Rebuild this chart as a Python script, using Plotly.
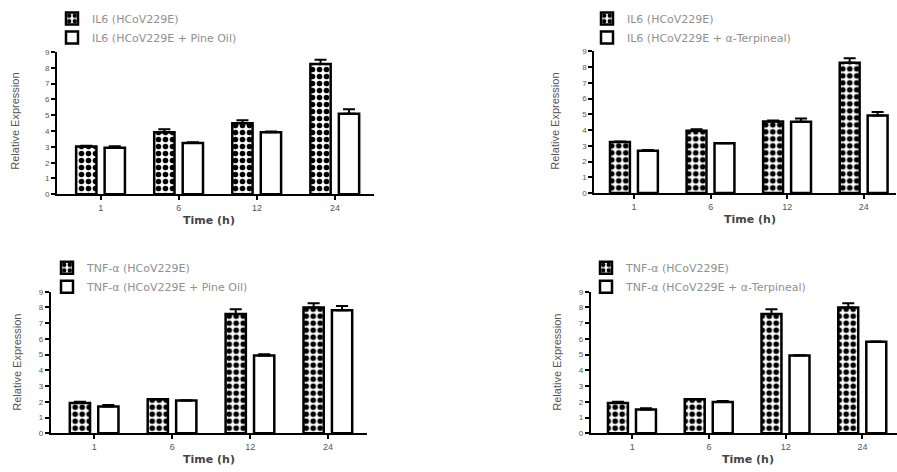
import plotly.graph_objects as go

# ---------------- data ----------------
times = ["1", "6", "12", "24"]

il6_virus_a = [3.03, 3.93, 4.49, 8.25]
il6_virus_a_err = [0.05, 0.18, 0.20, 0.26]
il6_pine = [2.94, 3.24, 3.93, 5.09]
il6_pine_err = [0.10, 0.06, 0.04, 0.29]

il6_virus_b = [3.24, 3.95, 4.55, 8.27]
il6_virus_b_err = [0.04, 0.10, 0.06, 0.30]
il6_terp = [2.68, 3.16, 4.53, 4.93]
il6_terp_err = [0.06, 0.02, 0.20, 0.22]

tnf_virus_a = [1.93, 2.16, 7.59, 8.00]
tnf_virus_a_err = [0.08, 0.02, 0.30, 0.27]
tnf_pine = [1.70, 2.08, 4.95, 7.82]
tnf_pine_err = [0.10, 0.02, 0.07, 0.27]

tnf_virus_b = [1.93, 2.16, 7.59, 8.00]
tnf_virus_b_err = [0.08, 0.02, 0.30, 0.27]
tnf_terp = [1.52, 2.00, 4.95, 5.82]
tnf_terp_err = [0.08, 0.06, 0.02, 0.02]

names = [
    ("IL6 (HCoV229E)", "IL6 (HCoV229E + Pine Oil)"),
    ("IL6 (HCoV229E)", "IL6 (HCoV229E + \u03b1-Terpineal)"),
    ("TNF-\u03b1 (HCoV229E)", "TNF-\u03b1 (HCoV229E + Pine Oil)"),
    ("TNF-\u03b1 (HCoV229E)", "TNF-\u03b1 (HCoV229E + \u03b1-Terpineal)"),
]
panels = [
    (il6_virus_a, il6_virus_a_err, il6_pine, il6_pine_err),
    (il6_virus_b, il6_virus_b_err, il6_terp, il6_terp_err),
    (tnf_virus_a, tnf_virus_a_err, tnf_pine, tnf_pine_err),
    (tnf_virus_b, tnf_virus_b_err, tnf_terp, tnf_terp_err),
]

# ---------------- layout geometry ----------------
W, H = 897, 472
xdom_px = [(57, 374), (594.3, 896), (50.7, 367), (590.7, 897)]
xrng = [(-0.56, 3.5), (-0.52, 3.42), (-0.56, 3.5), (-0.54, 3.45)]
ydom_px = [(194, 49), (192.7, 48.3), (437.7, 293.3), (437.7, 293.3)]
legend_px = [(52, 0), (587, 0), (47, 254), (586, 254)]
ytitle_px = [(15, 120), (555, 120), (16.7, 365), (556.7, 365)]
xtitle_px = [(209, 221), (750, 220), (209, 464), (748, 464)]

TXT = "#555555"
LEG = "#909090"
FONT = "Liberation Sans, Arial, sans-serif"

fig = go.Figure()
xpos = list(range(len(times)))

for i, ((v, ve, t, te), (n1, n2)) in enumerate(zip(panels, names)):
    sfx = "" if i == 0 else str(i + 1)
    leg = "legend" if i == 0 else f"legend{i+1}"
    fig.add_trace(go.Bar(
        x=xpos, y=v, name=n1, xaxis="x" + sfx, yaxis="y" + sfx, legend=leg,
        width=0.26, offset=-0.315,
        marker=dict(color="white", line=dict(color="black", width=2.5),
                    pattern=dict(shape=".", fgcolor="black", bgcolor="white",
                                 size=7, solidity=0.5, fillmode="replace")),
        error_y=dict(type="data", array=ve, arrayminus=[0] * len(ve), symmetric=False,
                     color="black", thickness=2, width=6),
        hoverinfo="skip",
    ))
    fig.add_trace(go.Bar(
        x=xpos, y=t, name=n2, xaxis="x" + sfx, yaxis="y" + sfx, legend=leg,
        width=0.26, offset=0.05,
        marker=dict(color="white", line=dict(color="black", width=2.5)),
        error_y=dict(type="data", array=te, arrayminus=[0] * len(te), symmetric=False,
                     color="black", thickness=2, width=6),
        hoverinfo="skip",
    ))

    x0, x1 = xdom_px[i]
    yb, yt = ydom_px[i]
    fig.layout["xaxis" + sfx] = dict(
        domain=[x0 / W, min(x1 / W, 1.0)], range=list(xrng[i]), anchor="y" + sfx,
        tickmode="array", tickvals=xpos, ticktext=times,
        showline=True, linecolor="black", linewidth=2,
        ticks="outside", ticklen=4, tickwidth=1.5, tickcolor="black",
        showgrid=False, zeroline=False,
        tickfont=dict(family=FONT, size=9, color=TXT),
    )
    fig.layout["yaxis" + sfx] = dict(
        domain=[1 - yb / H, 1 - yt / H], range=[0, 9], anchor="x" + sfx,
        tickmode="linear", tick0=0, dtick=1,
        showline=True, linecolor="black", linewidth=2,
        ticks="outside", ticklen=4, tickwidth=1.5, tickcolor="black",
        showgrid=False, zeroline=False,
        tickfont=dict(family=FONT, size=8, color=TXT),
    )
    lx, ly = legend_px[i]
    fig.layout[leg] = dict(
        x=lx / W, y=1 - ly / H, xanchor="left", yanchor="top",
        bgcolor="rgba(0,0,0,0)", borderwidth=0, traceorder="normal",
        font=dict(family="DejaVu Sans, sans-serif", size=11, color=LEG),
        itemwidth=30, tracegroupgap=0,
    )
    tx, ty = ytitle_px[i]
    fig.add_annotation(x=tx / W, y=1 - ty / H, xref="paper", yref="paper",
                       text="Relative Expression", textangle=-90, showarrow=False,
                       font=dict(family=FONT, size=11, color=TXT),
                       xanchor="center", yanchor="middle")
    hx, hy = xtitle_px[i]
    fig.add_annotation(x=hx / W, y=1 - hy / H, xref="paper", yref="paper",
                       text="<b>Time (h)</b>", showarrow=False,
                       font=dict(family="DejaVu Sans, sans-serif", size=11, color="#444444"),
                       xanchor="center", yanchor="middle")

fig.update_layout(
    width=W, height=H, margin=dict(l=0, r=0, t=0, b=0),
    paper_bgcolor="white", plot_bgcolor="white",
    barmode="overlay", showlegend=True,
)

fig.write_html("out.html", config={"displayModeBar": False},
               post_script="document.body.style.margin='0px';")
